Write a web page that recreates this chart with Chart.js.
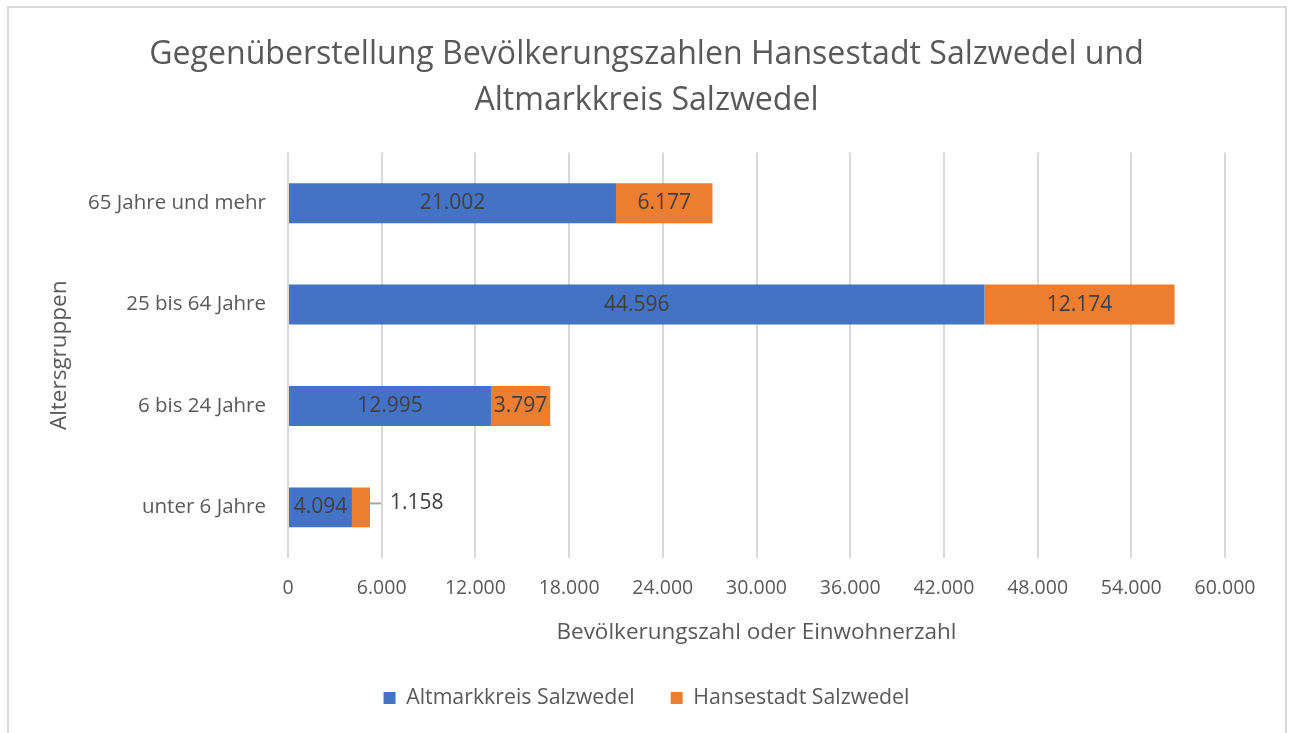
<!DOCTYPE html>
<html>
<head>
<meta charset="utf-8">
<script src="https://cdn.jsdelivr.net/npm/chart.js@4.4.1/dist/chart.umd.min.js"></script>
<style>
  html, body { margin: 0; padding: 0; background: #fff; }
  #wrap { position: absolute; left: 0; top: 0; width: 1293px; height: 733px; }
  #frame { position: absolute; left: 7px; top: 6px; width: 1276px; height: 740px; border: 2px solid #d9d9d9; }
</style>
</head>
<body>
<div id="frame"></div>
<div id="wrap"><canvas id="chart" width="1293" height="733"></canvas></div>
<script>
const categories = ['65 Jahre und mehr', '25 bis 64 Jahre', '6 bis 24 Jahre', 'unter 6 Jahre'];
const altmarkkreis = [21002, 44596, 12995, 4094];
const hansestadt = [6177, 12174, 3797, 1158];
const seriesNames = ['Altmarkkreis Salzwedel', 'Hansestadt Salzwedel'];
const titleLines = ['Gegenüberstellung Bevölkerungszahlen Hansestadt Salzwedel und', 'Altmarkkreis Salzwedel'];

const FONT = "'Open Sans', 'Noto Sans', sans-serif";
const GREY = '#595959';
const fmt = v => v.toLocaleString('de-DE');

// values inside the bars, small ones outside with a leader line
const barLabels = {
    id: 'barLabels',
    afterDatasetsDraw(chart) {
        const ctx = chart.ctx;
        ctx.save();
        ctx.font = `21px ${FONT}`;
        ctx.fillStyle = '#404040';
        ctx.textBaseline = 'middle';
        chart.data.datasets.forEach((ds, di) => {
            const meta = chart.getDatasetMeta(di);
            meta.data.forEach((bar, i) => {
                const text = fmt(ds.data[i]);
                const w = ctx.measureText(text).width;
                const left = Math.min(bar.x, bar.base);
                const right = Math.max(bar.x, bar.base);
                if (right - left >= w - 8) {
                    ctx.textAlign = 'center';
                    ctx.fillText(text, (left + right) / 2, bar.y);
                } else {
                    ctx.strokeStyle = '#a6a6a6';
                    ctx.lineWidth = 2;
                    ctx.beginPath();
                    ctx.moveTo(right - 1, bar.y - 4);
                    ctx.lineTo(right + 11, bar.y - 4);
                    ctx.stroke();
                    ctx.textAlign = 'left';
                    ctx.fillText(text, right + 20, bar.y - 4);
                }
            });
        });
        ctx.restore();
    }
};

new Chart(document.getElementById('chart'), {
    type: 'bar',
    data: {
        labels: categories,
        datasets: [
            { label: seriesNames[0], data: altmarkkreis, backgroundColor: '#4472C4' },
            { label: seriesNames[1], data: hansestadt, backgroundColor: '#ED7D31' }
        ]
    },
    options: {
        indexAxis: 'y',
        responsive: false,
        animation: false,
        layout: { padding: { left: 68, right: 68, top: 0, bottom: 14.3 } },
        datasets: { bar: { categoryPercentage: 1, barPercentage: 0.394 } },
        scales: {
            x: {
                stacked: true,
                min: 0,
                max: 60000,
                border: { display: false },
                grid: { color: '#d9d9d9', lineWidth: 2, drawTicks: false },
                ticks: {
                    stepSize: 6000,
                    padding: 19,
                    color: GREY,
                    font: { family: FONT, size: 19.5 },
                    callback: v => fmt(v)
                },
                title: {
                    display: true,
                    text: 'Bevölkerungszahl oder Einwohnerzahl',
                    color: GREY,
                    font: { family: FONT, size: 22.5 },
                    padding: { top: 0, bottom: 5.8 }
                },
                afterFit: s => { s.height = 93.3; }
            },
            y: {
                stacked: true,
                border: { display: false },
                grid: { display: false },
                ticks: {
                    padding: 14,
                    color: GREY,
                    font: { family: FONT, size: 20.5 }
                },
                title: {
                    display: true,
                    text: 'Altersgruppen',
                    color: GREY,
                    font: { family: FONT, size: 22.5 },
                    padding: { top: -21.5, bottom: 0 }
                },
                afterFit: s => { s.width = 220; }
            }
        },
        plugins: {
            title: {
                display: true,
                text: titleLines,
                color: GREY,
                font: { family: FONT, size: 32.1, weight: 'normal', lineHeight: 1.44 },
                padding: { top: 32, bottom: 28 }
            },
            legend: {
                position: 'bottom',
                labels: {
                    color: GREY,
                    font: { family: FONT, size: 21.3 },
                    boxWidth: 12,
                    boxHeight: 12,
                    padding: 36
                }
            },
            tooltip: { enabled: false }
        }
    },
    plugins: [barLabels]
});
</script>
</body>
</html>
